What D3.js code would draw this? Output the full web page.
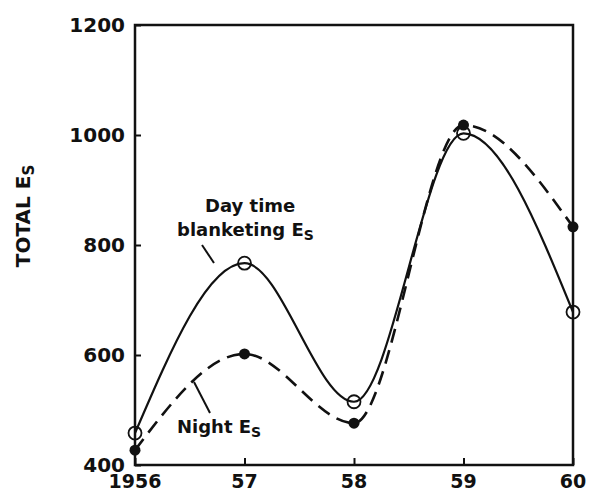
<!DOCTYPE html>
<html>
<head>
<meta charset="utf-8">
<script src="https://cdn.jsdelivr.net/npm/d3@7"></script>
<style>
body { margin: 0; background: #fff; }
text { font-family: "DejaVu Sans", sans-serif; font-weight: bold; fill: #111; }
</style>
</head>
<body>
<div id="draw"></div>
<script>
var years = [1956, 1957, 1958, 1959, 1960];
var yearLabels = ["1956", "57", "58", "59", "60"];
var dayEs = [458, 767, 515, 1003, 678];
var nightEs = [427, 602, 476, 1018, 833];
var yTicks = [400, 600, 800, 1000, 1200];

var W = 592, H = 493;
var plotLeft = 135, plotRight = 573, plotTop = 25, plotBottom = 465;

var svg = d3.select('#draw').append('svg')
    .attr('width', W).attr('height', H);

var x = d3.scaleLinear().domain([1956, 1960]).range([plotLeft, plotRight]);
var y = d3.scaleLinear().domain([400, 1200]).range([plotBottom, plotTop]);

// frame
svg.append('rect')
    .attr('x', plotLeft).attr('y', plotTop)
    .attr('width', plotRight - plotLeft).attr('height', plotBottom - plotTop)
    .attr('fill', 'none').attr('stroke', '#111').attr('stroke-width', 2.5);

// left axis, inner ticks
var yAxis = svg.append('g')
    .attr('transform', 'translate(' + plotLeft + ',0)')
    .call(d3.axisRight(y).tickValues(yTicks).tickSize(6).tickFormat(''));
yAxis.select('.domain').remove();
yAxis.selectAll('text').remove();
yAxis.selectAll('line').attr('stroke', '#111').attr('stroke-width', 2);

svg.selectAll('.ylab')
    .data(yTicks)
    .enter().append('text')
    .attr('class', 'ylab')
    .attr('x', plotLeft - 10)
    .attr('y', function(d){ return y(d) + 7; })
    .attr('text-anchor', 'end')
    .attr('font-size', 20)
    .text(function(d){ return d; });

// bottom axis, inner ticks
var xAxis = svg.append('g')
    .attr('transform', 'translate(0,' + plotBottom + ')')
    .call(d3.axisTop(x).tickValues(years).tickSize(7).tickFormat(''));
xAxis.select('.domain').remove();
xAxis.selectAll('text').remove();
xAxis.selectAll('line').attr('stroke', '#111').attr('stroke-width', 2);

svg.selectAll('.xlab')
    .data(years)
    .enter().append('text')
    .attr('class', 'xlab')
    .attr('x', function(d){ return x(d); })
    .attr('y', plotBottom + 23)
    .attr('text-anchor', 'middle')
    .attr('font-size', 19)
    .text(function(d, i){ return yearLabels[i]; });

// y title
svg.append('text')
    .attr('transform', 'translate(30,216) rotate(-90)')
    .attr('text-anchor', 'middle')
    .attr('font-size', 20)
    .html('TOTAL E<tspan font-size="15" dy="4">S</tspan>');

var line = d3.line()
    .x(function(d, i){ return x(years[i]); })
    .y(function(d){ return y(d); })
    .curve(d3.curveMonotoneX);

svg.append('path')
    .attr('d', line(nightEs))
    .attr('fill', 'none').attr('stroke', '#111')
    .attr('stroke-width', 2.6).attr('stroke-dasharray', '14,8');

svg.append('path')
    .attr('d', line(dayEs))
    .attr('fill', 'none').attr('stroke', '#111')
    .attr('stroke-width', 2.2);

svg.selectAll('.night')
    .data(nightEs)
    .enter().append('circle')
    .attr('class', 'night')
    .attr('cx', function(d, i){ return x(years[i]); })
    .attr('cy', function(d){ return y(d); })
    .attr('r', 5.5)
    .attr('fill', '#111');

svg.selectAll('.day')
    .data(dayEs)
    .enter().append('circle')
    .attr('class', 'day')
    .attr('cx', function(d, i){ return x(years[i]); })
    .attr('cy', function(d){ return y(d); })
    .attr('r', 6.5)
    .attr('fill', 'none').attr('stroke', '#111').attr('stroke-width', 1.8);

// annotations
svg.append('text').attr('x', 205).attr('y', 212).attr('font-size', 18).attr('font-weight', 'normal')
    .text('Day time');
svg.append('text').attr('x', 177).attr('y', 236).attr('font-size', 18).attr('font-weight', 'normal')
    .html('blanketing E<tspan font-size="14" dy="4">S</tspan>');
svg.append('text').attr('x', 177).attr('y', 433).attr('font-size', 18).attr('font-weight', 'normal')
    .html('Night E<tspan font-size="14" dy="4">S</tspan>');

svg.append('line').attr('x1', 202).attr('y1', 245).attr('x2', 214).attr('y2', 263)
    .attr('stroke', '#111').attr('stroke-width', 2);
svg.append('line').attr('x1', 210).attr('y1', 413).attr('x2', 194).attr('y2', 382)
    .attr('stroke', '#111').attr('stroke-width', 2);
</script>
</body>
</html>
